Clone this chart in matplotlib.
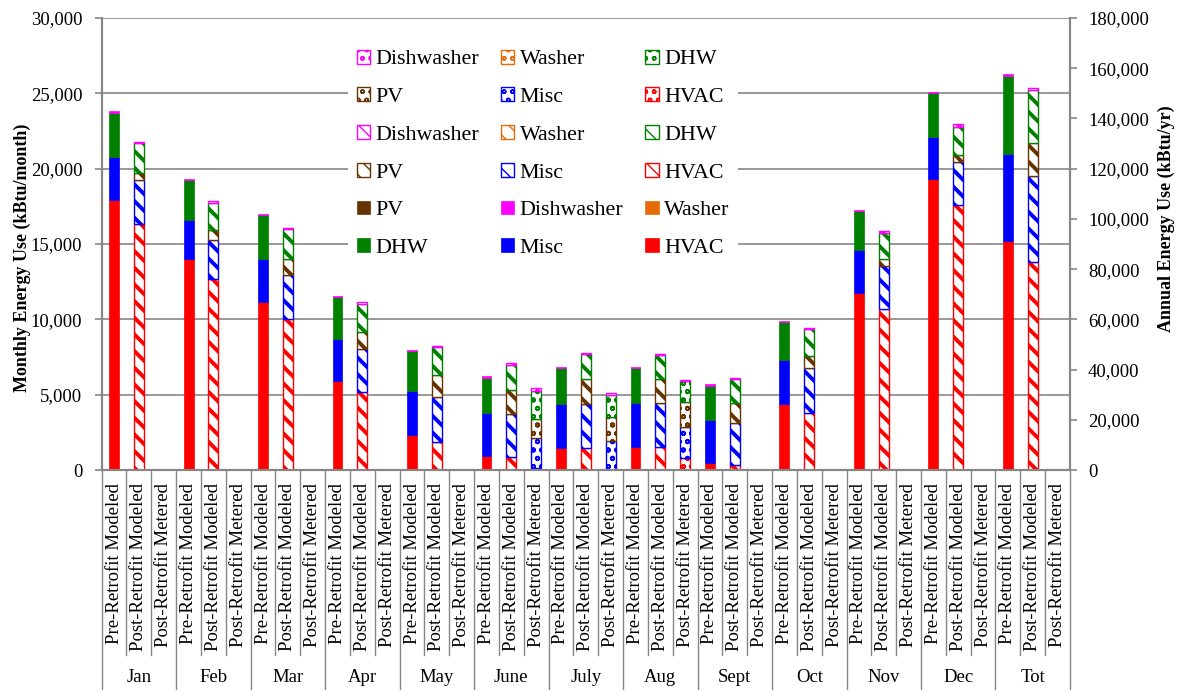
import matplotlib.pyplot as plt
from matplotlib.patches import Patch
from matplotlib.ticker import FuncFormatter, MultipleLocator

plt.rcParams['font.family'] = ['Liberation Serif', 'DejaVu Serif']

months = ['Jan', 'Feb', 'Mar', 'Apr', 'May', 'June', 'July', 'Aug', 'Sept',
          'Oct', 'Nov', 'Dec', 'Tot']
scenarios = ['Pre-Retrofit Modeled', 'Post-Retrofit Modeled', 'Post-Retrofit Metered']

# pre-retrofit modeled (kBtu/month, last value = annual total kBtu/yr)
pre_hvac = [17920, 13985, 11150, 5920, 2325, 930, 1440, 1505, 485, 4400, 11770, 19290, 91200]
pre_misc = [2870, 2605, 2875, 2795, 2940, 2830, 2920, 2920, 2835, 2900, 2830, 2830, 34640]
pre_dhw = [2930, 2660, 2900, 2745, 2635, 2370, 2390, 2325, 2275, 2545, 2590, 2880, 31160]
pre_washer = [0, 0, 0, 0, 0, 0, 0, 0, 0, 0, 0, 0, 0]
pre_dish = [100, 60, 65, 65, 65, 100, 85, 85, 90, 65, 65, 90, 570]
pre_pv = [0, 0, 0, 0, 0, 0, 0, 0, 0, 0, 0, 0, 0]

# post-retrofit modeled
post_hvac = [16330, 12655, 10020, 5195, 1880, 885, 1440, 1505, 330, 3805, 10710, 17590, 82950]
post_misc = [2920, 2610, 2920, 2815, 2985, 2830, 2920, 2920, 2810, 2945, 2830, 2875, 34250]
post_pv = [480, 665, 1045, 1170, 1440, 1595, 1660, 1595, 1285, 815, 445, 440, 12880]
post_dhw = [1950, 1770, 1990, 1840, 1835, 1660, 1680, 1590, 1595, 1770, 1765, 1880, 21240]
post_washer = [0, 0, 0, 0, 0, 0, 0, 0, 0, 0, 0, 0, 0]
post_dish = [110, 130, 85, 110, 110, 110, 85, 110, 85, 90, 90, 180, 670]

# post-retrofit metered (only June-Aug available)
met_hvac = [None, None, None, None, None, 155, 30, 775, None, None, None, None, None]
met_misc = [None, None, None, None, None, 1990, 1925, 2055, None, None, None, None, None]
met_pv = [None, None, None, None, None, 1240, 1570, 1660, None, None, None, None, None]
met_dhw = [None, None, None, None, None, 1880, 1435, 1395, None, None, None, None, None]
met_washer = [None, None, None, None, None, 0, 0, 0, None, None, None, None, None]
met_dish = [None, None, None, None, None, 155, 135, 110, None, None, None, None, None]

colors = {'HVAC': '#FF0000', 'Misc': '#0000FF', 'DHW': '#008000',
          'Washer': '#E46C0A', 'Dishwasher': '#FF00FF', 'PV': '#663300'}

pre_stack = [('HVAC', pre_hvac), ('Misc', pre_misc), ('DHW', pre_dhw),
             ('Washer', pre_washer), ('Dishwasher', pre_dish), ('PV', pre_pv)]
post_stack = [('HVAC', post_hvac), ('Misc', post_misc), ('PV', post_pv),
              ('DHW', post_dhw), ('Washer', post_washer), ('Dishwasher', post_dish)]
met_stack = [('HVAC', met_hvac), ('Misc', met_misc), ('PV', met_pv),
             ('DHW', met_dhw), ('Washer', met_washer), ('Dishwasher', met_dish)]

fig = plt.figure(figsize=(11.78, 6.9), dpi=100)
ax = fig.add_axes([0.0863, 0.3188, 0.8220, 0.6551])
ax2 = ax.twinx()
grid_c = '#868686'
hatch_lw = {0: 1.0, 1: 2.8, 2: 1.3}


def style_for(slot, color):
    plt.rcParams['hatch.linewidth'] = hatch_lw[slot]
    if slot == 0:
        return dict(color=color, edgecolor=color, linewidth=0.5)
    hatch = '\\\\' if slot == 1 else 'oo'
    return dict(facecolor='white', edgecolor=color, hatch=hatch, linewidth=1.0)


def draw_stack(slot, stack):
    bottoms = [0] * len(months)
    for name, vals in stack:
        for g, v in enumerate(vals):
            if not v:
                continue
            target = ax2 if months[g] == 'Tot' else ax
            target.bar(g * 3 + slot, v, bottom=bottoms[g], width=0.4,
                       **style_for(slot, colors[name]))
            bottoms[g] += v


draw_stack(0, pre_stack)
draw_stack(1, post_stack)
draw_stack(2, met_stack)

ax.set_xlim(-0.5, len(months) * 3 - 0.5)
ax.set_ylim(0, 30000)
ax2.set_ylim(0, 180000)
ax.yaxis.set_major_locator(MultipleLocator(5000))
ax2.yaxis.set_major_locator(MultipleLocator(20000))
fmt = FuncFormatter(lambda v, p: f'{v:,.0f}')
ax.yaxis.set_major_formatter(fmt)
ax2.yaxis.set_major_formatter(fmt)
ax.set_axisbelow(True)
ax.grid(axis='y', color=grid_c, linewidth=1.2)
ax.set_xticks([])

for a in (ax, ax2):
    a.spines['top'].set_visible(False)
    for s in ('left', 'right', 'bottom'):
        a.spines[s].set_color(grid_c)
        a.spines[s].set_linewidth(1.5)
    a.tick_params(axis='y', colors=grid_c, labelcolor='black', labelsize=13.5,
                  length=5, width=1.2)
ax.tick_params(axis='y', pad=9)
ax2.tick_params(axis='y', pad=8)

ax.set_ylabel('Monthly Energy Use (kBtu/month)', fontsize=13, fontweight='bold')
ax2.set_ylabel('Annual Energy Use (kBtu/yr)', fontsize=13, fontweight='bold')
ax.yaxis.set_label_coords(-0.073, 0.469)
ax2.yaxis.set_label_coords(1.091, 0.556)

# two-level category axis
trans = ax.get_xaxis_transform()
for k in range(len(months) * 3 + 1):
    y_end = -0.487 if k % 3 == 0 else -0.409
    ax.plot([k - 0.5, k - 0.5], [0, y_end], transform=trans, color=grid_c,
            linewidth=1.0, clip_on=False)
for g, m in enumerate(months):
    for s, label in enumerate(scenarios):
        ax.text(g * 3 + s, -0.029, label, transform=trans, rotation=90,
                ha='center', va='top', fontsize=13.5)
    ax.text(g * 3 + 1, -0.46, m, transform=trans, ha='center', va='center',
            fontsize=13.5)


def handle(name, slot):
    return Patch(label=name, **style_for(slot, colors[name]))


handles = [
    handle('Dishwasher', 2), handle('PV', 2), handle('Dishwasher', 1),
    handle('PV', 1), handle('PV', 0), handle('DHW', 0),
    handle('Washer', 2), handle('Misc', 2), handle('Washer', 1),
    handle('Misc', 1), handle('Dishwasher', 0), handle('Misc', 0),
    handle('DHW', 2), handle('HVAC', 2), handle('DHW', 1),
    handle('HVAC', 1), handle('Washer', 0), handle('HVAC', 0),
]
fig.legend(handles=handles, ncol=3, loc='center', bbox_to_anchor=(0.4610, 0.777),
           fontsize=15.8, frameon=True, facecolor='white', edgecolor='none',
           framealpha=1, fancybox=False, handlelength=0.6, handleheight=0.6,
           handletextpad=0.25, columnspacing=1.0, labelspacing=0.82, borderpad=0.4)

fig.savefig('out.png', dpi=100)
